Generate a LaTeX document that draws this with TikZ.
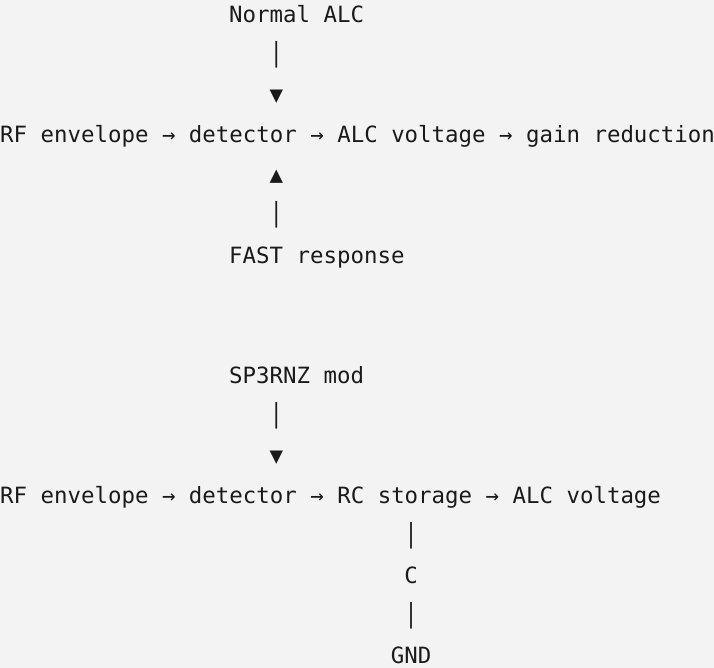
\documentclass[tikz,border=0pt]{standalone}
\usepackage{fontspec}
\newfontfamily\monofont{DejaVu Sans Mono}
\definecolor{bg}{HTML}{F3F3F3}
\definecolor{ink}{HTML}{1A1A1A}

\begin{document}
\begin{tikzpicture}[
            x = 1pt, y = 1pt,
            txt/.style = {anchor = base west, inner sep = 0pt, text = ink,
                font = \monofont\fontsize{22.4}{40}\selectfont},
        ]
        \fill[bg] (0,0) rectangle (714,-668);
        \useasboundingbox (0,0) rectangle (714,-668);

        % normal ALC loop
        \node (normal) [txt] at (229,-23){Normal ALC};
        \node (bar1) [txt] at (269.4,-63){│};
        \node (down1) [txt] at (269.4,-103){▼};
        \node (chain1) [txt] at (0,-143){RF envelope → detector → ALC voltage → gain reduction};
        \node (up1) [txt] at (269.4,-183){▲};
        \node (bar2) [txt] at (269.4,-223){│};
        \node (fast) [txt] at (229,-263){FAST response};

        % modified loop
        \node (mod) [txt] at (229,-383){SP3RNZ mod};
        \node (bar3) [txt] at (269.4,-423){│};
        \node (down2) [txt] at (269.4,-463){▼};
        \node (chain2) [txt] at (0,-503){RF envelope → detector → RC storage → ALC voltage};
        \node (bar4) [txt] at (404.1,-543){│};
        \node (cap) [txt] at (404.1,-583){C};
        \node (bar5) [txt] at (404.1,-623){│};
        \node (gnd) [txt] at (390.6,-663){GND};
    \end{tikzpicture}
\end{document}
